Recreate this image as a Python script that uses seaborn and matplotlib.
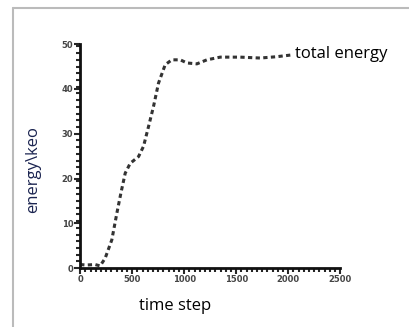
import matplotlib.pyplot as plt
import seaborn as sns
from matplotlib.lines import Line2D
from matplotlib.ticker import MultipleLocator

time_step = [0, 60, 144, 192, 240, 304, 353, 391, 433, 481, 561, 609, 657, 705,
             753, 817, 881, 962, 1026, 1122, 1218, 1346, 1538, 1730, 1891, 2035]
energy = [0.8, 0.7, 0.8, 0.5, 2.2, 6.3, 12.3, 16.7, 21.2, 23.4, 24.9, 27.2, 31.6,
          36.1, 41.3, 45.4, 46.5, 46.5, 45.8, 45.6, 46.5, 47.1, 47.1, 46.9, 47.2, 47.6]
x_ticks = [0, 500, 1000, 1500, 2000, 2500]
y_ticks = [0, 10, 20, 30, 40, 50]

sns.set_style("ticks")
plt.rcParams["font.family"] = ["DejaVu Sans"]

fig = plt.figure(figsize=(4.09, 3.27), dpi=100)
ax = fig.add_axes([0.196, 0.180, 0.636, 0.685])

sns.lineplot(x=time_step, y=energy, ax=ax, color="#333333", linewidth=2.2,
             linestyle=(0, (1.4, 1.1)))

ax.set_xlim(0, 2500)
ax.set_ylim(0, 50)
ax.set_xticks(x_ticks)
ax.set_yticks(y_ticks)
ax.xaxis.set_minor_locator(MultipleLocator(50))
ax.yaxis.set_minor_locator(MultipleLocator(1.5))
ax.tick_params(which="major", length=4, width=1.5, labelsize=6, pad=1)
ax.tick_params(which="minor", length=3, width=1.5)
for lab in ax.get_xticklabels() + ax.get_yticklabels():
    lab.set_fontweight("bold")
    lab.set_color("#444444")
sns.despine(ax=ax)
for s in ["left", "bottom"]:
    ax.spines[s].set_linewidth(2)
    ax.spines[s].set_color("#111111")

ax.text(2060, 47.8, "total energy", fontsize=12, va="center", ha="left",
        family="Open Sans", color="black")
fig.text(0.081, 0.48, "energy\\keo", rotation=90, fontsize=12, ha="center",
         va="center", family="Open Sans", color="#1b2450")
fig.text(0.428, 0.064, "time step", fontsize=12, ha="center", va="center",
         family="Open Sans", color="black")

# frame from the scanned page
fig.add_artist(Line2D([0.032, 1.0], [0.975, 0.975], color="#bbbbbb", lw=1.5,
                      transform=fig.transFigure))
fig.add_artist(Line2D([0.032, 0.032], [0.0, 0.975], color="#bbbbbb", lw=1.5,
                      transform=fig.transFigure))

fig.savefig("out.png", dpi=100)
